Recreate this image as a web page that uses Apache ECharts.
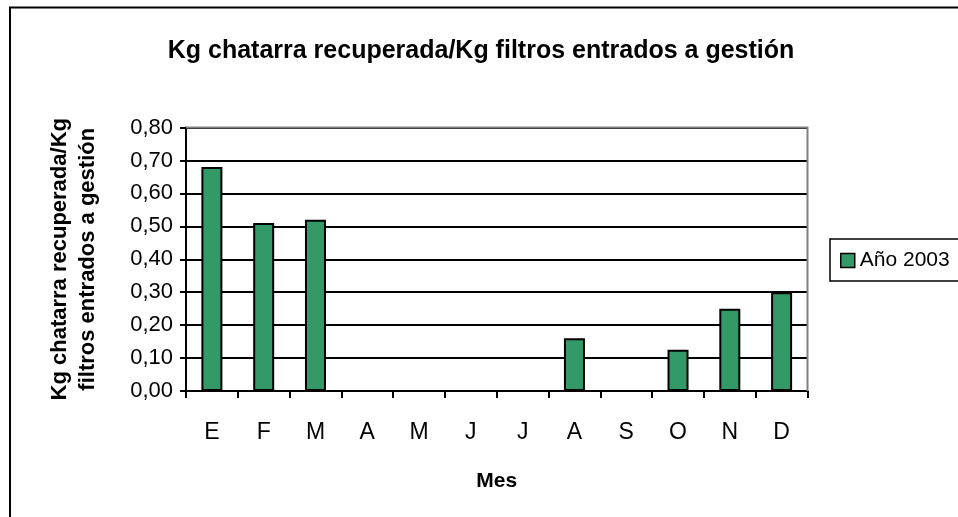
<!DOCTYPE html>
<html>
<head>
<meta charset="utf-8">
<script src="https://cdn.jsdelivr.net/npm/echarts@6/dist/echarts.min.js"></script>
<style>
  html, body { margin: 0; padding: 0; background: #fff; }
  #main { width: 958px; height: 517px; }
</style>
</head>
<body>
<div id="main"></div>
<script>
// datos
var meses = ['E', 'F', 'M', 'A', 'M', 'J', 'J', 'A', 'S', 'O', 'N', 'D'];
var ratio2003 = [0.68, 0.51, 0.52, 0, 0, 0, 0, 0.16, 0, 0.125, 0.25, 0.30];
var yTicks = [0, 0.1, 0.2, 0.3, 0.4, 0.5, 0.6, 0.7, 0.8];

var fuente = 'Liberation Sans, Arial, sans-serif';

var myChart = echarts.init(document.getElementById('main'));

var option = {
    backgroundColor: '#fff',
    animation: false,
    textStyle: { fontFamily: fuente, color: '#000' },
    graphic: [{
        type: 'rect',
        shape: { x: 10, y: 7.5, width: 1000, height: 600 },
        style: { fill: 'none', stroke: '#000', lineWidth: 2 },
        z: 0
    }, {
        // borde gris del area de trazado (arriba y derecha)
        type: 'polyline',
        shape: { points: [[186, 127.5], [807.5, 127.5], [807.5, 391]] },
        style: { fill: 'none', stroke: '#808080', lineWidth: 2 },
        z: 1
    }],
    title: {
        text: 'Kg chatarra recuperada/Kg filtros entrados a gestión',
        left: 476,
        textAlign: 'center',
        top: 34,
        textStyle: { fontFamily: fuente, fontSize: 25, fontWeight: 'bold', color: '#000' }
    },
    legend: {
        data: ['Año 2003'],
        left: 830,
        top: 239,
        orient: 'vertical',
        padding: [11, 30, 10, 10],
        borderColor: '#000',
        borderWidth: 1.5,
        icon: 'rect',
        itemWidth: 14,
        itemHeight: 14,
        itemGap: 6,
        itemStyle: { borderColor: '#000', borderWidth: 1.5 },
        textStyle: { fontFamily: fuente, fontSize: 21, color: '#000' }
    },
    grid: {
        left: 186,
        right: 150.5,
        top: 127.5,
        bottom: 126,
        containLabel: false
    },
    xAxis: {
        type: 'category',
        data: meses,
        name: 'Mes',
        nameLocation: 'middle',
        nameGap: 80,
        nameTextStyle: { fontFamily: fuente, fontSize: 21, fontWeight: 'bold', color: '#000' },
        axisLine: { lineStyle: { color: '#000', width: 2 } },
        axisTick: { show: true, length: 7, lineStyle: { color: '#000', width: 2 } },
        axisLabel: { margin: 30, fontFamily: fuente, fontSize: 23, color: '#000' }
    },
    yAxis: {
        type: 'value',
        min: 0,
        max: 0.8,
        interval: 0.1,
        name: 'Kg chatarra recuperada/Kg\nfiltros entrados a gestión',
        nameLocation: 'middle',
        nameGap: 84,
        nameRotate: 90,
        nameTextStyle: { fontFamily: fuente, fontSize: 22, fontWeight: 'bold', color: '#000', lineHeight: 28 },
        axisLine: { show: true, lineStyle: { color: '#000', width: 2 } },
        axisTick: { show: true, length: 6, lineStyle: { color: '#000', width: 2 } },
        splitLine: { show: true, lineStyle: { color: '#000', width: 2 } },
        axisLabel: {
            margin: 13,
            fontFamily: fuente,
            fontSize: 22,
            color: '#000',
            formatter: function (v) {
                return v.toFixed(2).replace('.', ',');
            }
        }
    },
    series: [{
        name: 'Año 2003',
        type: 'bar',
        data: ratio2003,
        barWidth: 21,
        itemStyle: { color: '#339966', borderColor: '#000', borderWidth: 2 }
    }]
};

myChart.setOption(option);
</script>
</body>
</html>
